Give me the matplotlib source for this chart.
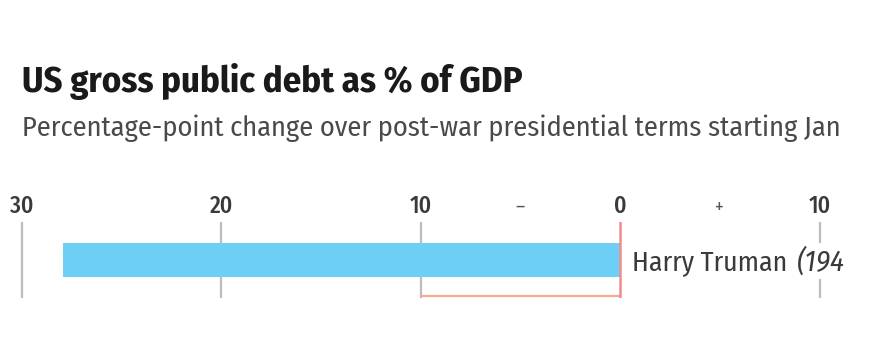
import matplotlib
matplotlib.use("Agg")
import matplotlib.pyplot as plt
import matplotlib.transforms as mtransforms

plt.rcParams['font.family'] = ['Fira Sans Condensed', 'DejaVu Sans']

presidents = ['Harry Truman']
terms = ['(194']
changes = [-27.9]
grid_vals = [-30, -20, -10, 10]
tick_vals = [-30, -20, -10, -5, 0, 5, 10]
tick_labels = ['30', '20', '10', '–', '0', '+', '10']

title = 'US gross public debt as % of GDP'
subtitle = 'Percentage-point change over post-war presidential terms starting Jan'

BLUE = '#6dcff6'
RED = '#f58a8a'
SALMON = '#f7a88f'
GREY = '#bcbcbc'

fig = plt.figure(figsize=(8.73, 3.56), dpi=100)
ax = fig.add_axes([0, 1 - 298/356, 1, 76/356])
ax.set_xlim(-31.08, 12.68)
ax.set_ylim(0, 1)
ax.axis('off')
renderer = fig.canvas.get_renderer()


def fit(t, width_px):
    # scale a text so its drawn width matches width_px
    w = t.get_window_extent(renderer).width
    t.set_fontsize(t.get_fontsize() * width_px / w)


for g in grid_vals:
    if g == 10:
        ax.axvline(g, ymin=0, ymax=0.237, color=GREY, lw=1.6, zorder=1)
        ax.axvline(g, ymin=0.737, ymax=1, color=GREY, lw=1.6, zorder=1)
    else:
        ax.axvline(g, color=GREY, lw=1.6, zorder=1)

ax.barh([0.5], changes, height=0.447, color=BLUE, zorder=2)
ax.plot([-10, 0], [0.03, 0.03], color=SALMON, lw=1.6, zorder=2)
ax.axvline(0, color=RED, lw=1.8, zorder=3)

trans = mtransforms.blended_transform_factory(ax.transData, ax.transAxes)
for v, lab in zip(tick_vals, tick_labels):
    sign = lab in ('–', '+')
    ax.text(v, 1.2, lab, transform=trans, ha='center', va='center',
            fontsize=14 if sign else 17, fontweight='normal' if sign else 'medium',
            color='#555555' if sign else '#3a3a3a')

for name, term in zip(presidents, terms):
    t = ax.text(0.6, 0.47, name, ha='left', va='center', fontsize=12,
                color='#3a3a3a', zorder=4)
    fit(t, 155)
    bb = t.get_window_extent(renderer)
    x_end = ax.transData.inverted().transform((bb.x1 + 10, bb.y0))[0]
    t2 = ax.text(x_end, 0.47, term, ha='left', va='center', fontsize=t.get_fontsize(),
                 color='#3a3a3a', style='italic', zorder=4)
    fit(t2, 48)

tt = fig.text(22/873, 1 - 81/356, title, ha='left', va='center',
              fontsize=20, fontweight='bold', color='#1a1a1a')
fit(tt, 501)
st = fig.text(22/873, 1 - 128/356, subtitle, ha='left', va='center',
              fontsize=14, color='#4a4a4a')
fit(st, 826)

fig.savefig('out.png', dpi=100)
